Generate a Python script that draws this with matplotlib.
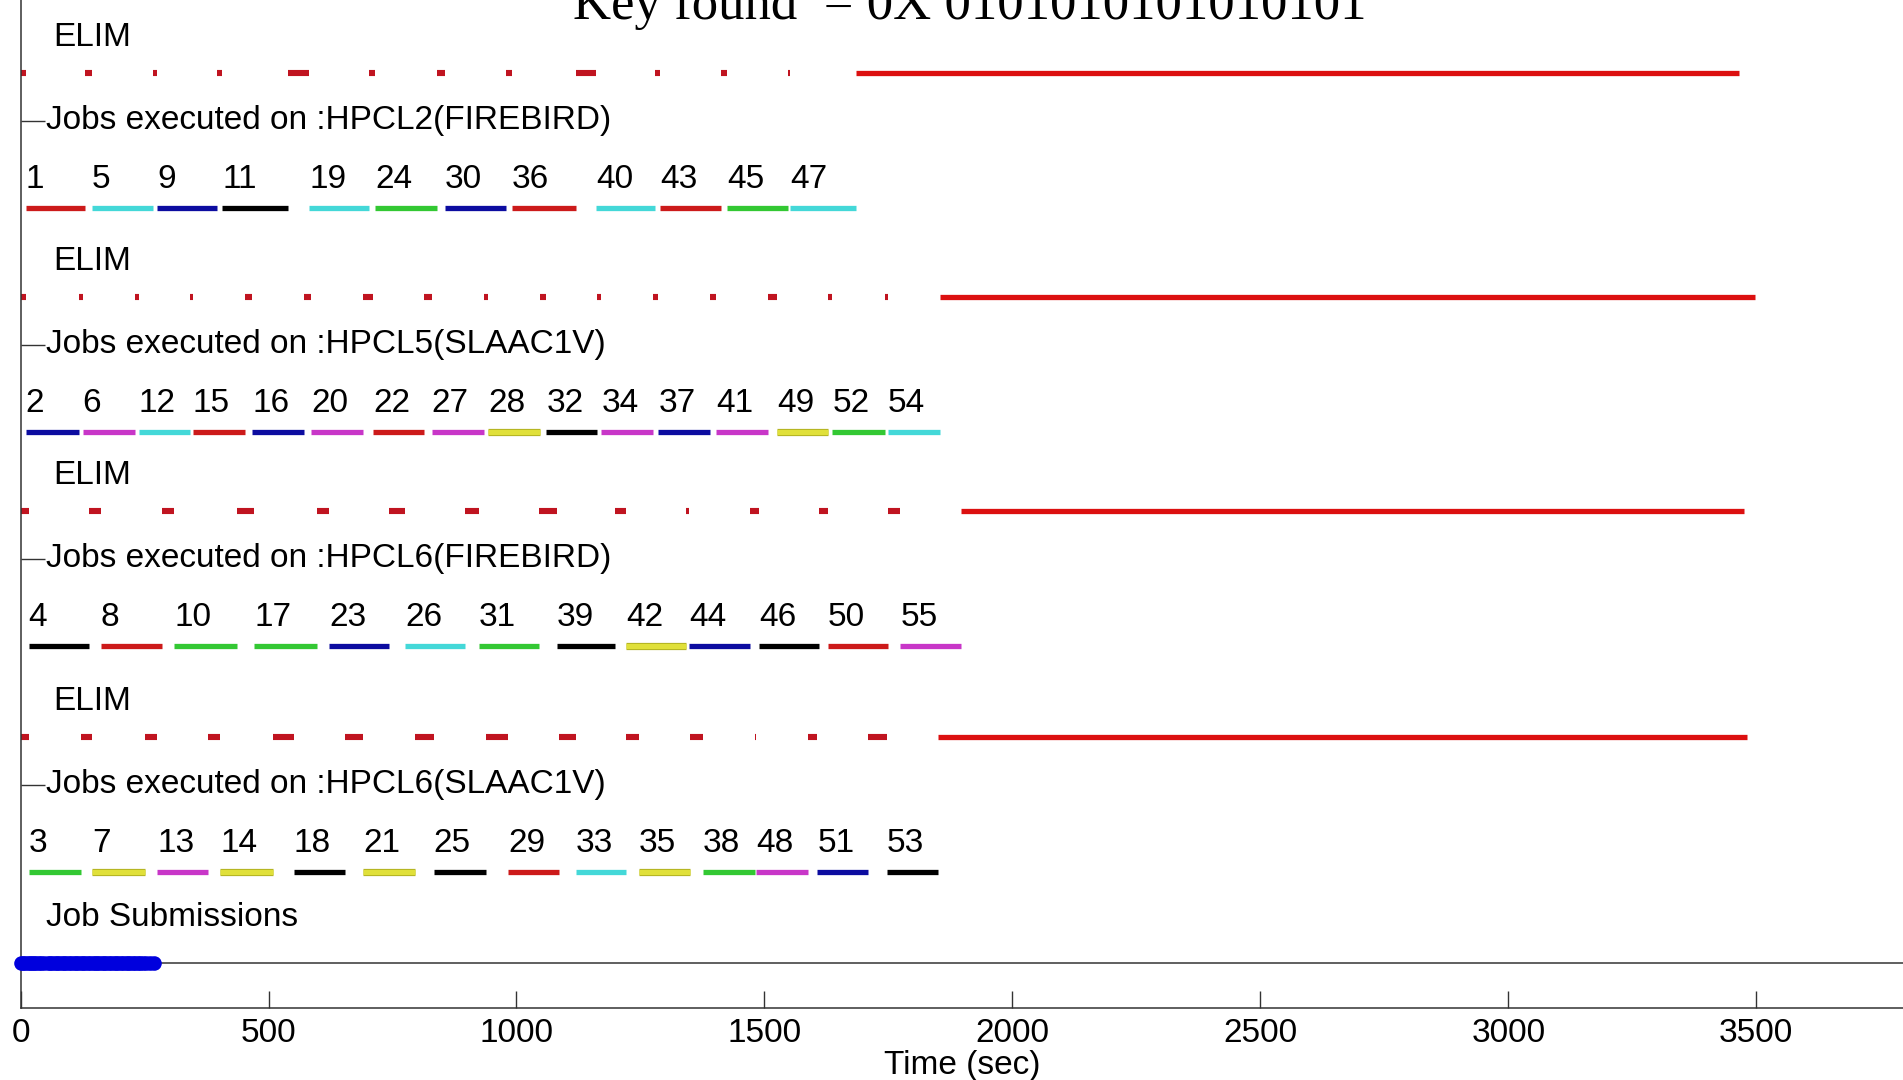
import matplotlib
matplotlib.use("Agg")
import matplotlib.pyplot as plt
import matplotlib.patheffects as pe

# ---------------- data ----------------
title_text = "Key found  = 0X 0101010101010101"

machines = ["HPCL2(FIREBIRD)", "HPCL5(SLAAC1V)", "HPCL6(FIREBIRD)", "HPCL6(SLAAC1V)"]

hpcl2_jobs   = [1, 5, 9, 11, 19, 24, 30, 36, 40, 43, 45, 47]
hpcl2_start  = [10, 144, 275, 407, 582, 715, 856, 991, 1160, 1290, 1425, 1552]
hpcl2_end    = [129, 267, 397, 539, 703, 839, 979, 1120, 1280, 1413, 1548, 1685]
hpcl2_colors = ["r", "c", "b", "k", "c", "g", "b", "r", "c", "r", "g", "c"]

hpcl5_jobs   = [2, 6, 12, 15, 16, 20, 22, 27, 28, 32, 34, 37, 41, 49, 52, 54]
hpcl5_start  = [10, 125, 238, 347, 467, 586, 711, 829, 943, 1060, 1171, 1286, 1403, 1525, 1637, 1749]
hpcl5_end    = [117, 230, 341, 453, 571, 690, 814, 934, 1048, 1163, 1276, 1390, 1508, 1629, 1743, 1854]
hpcl5_colors = ["b", "m", "c", "r", "b", "m", "r", "m", "y", "k", "m", "b", "m", "y", "g", "c"]

hpcl6f_jobs   = [4, 8, 10, 17, 23, 26, 31, 39, 42, 44, 46, 50, 55]
hpcl6f_start  = [16, 162, 310, 471, 622, 776, 924, 1082, 1221, 1348, 1489, 1628, 1774]
hpcl6f_end    = [137, 286, 436, 597, 743, 897, 1045, 1199, 1342, 1471, 1610, 1749, 1897]
hpcl6f_colors = ["k", "r", "g", "g", "b", "c", "g", "k", "y", "b", "k", "r", "m"]

hpcl6s_jobs   = [3, 7, 13, 14, 18, 21, 25, 29, 33, 35, 38, 48, 51, 53]
hpcl6s_start  = [16, 144, 276, 403, 551, 691, 833, 983, 1119, 1247, 1376, 1483, 1607, 1747]
hpcl6s_end    = [121, 251, 378, 508, 654, 795, 938, 1086, 1221, 1350, 1481, 1588, 1709, 1849]
hpcl6s_colors = ["g", "y", "m", "y", "k", "y", "k", "r", "c", "y", "g", "m", "b", "k"]

elim_end = [3466, 3498, 3476, 3481]

submission_times = [0, 4, 9, 14, 18, 23, 28, 32, 37, 42, 47, 55, 60, 64, 69, 74, 78, 83, 88,
                    92, 97, 102, 107, 112, 116, 121, 126, 130, 135, 140, 145, 150, 154, 159,
                    164, 168, 173, 178, 183, 188, 192, 197, 202, 207, 212, 216, 221, 226, 231,
                    236, 241, 246, 252, 260, 270]

xticks = [0, 500, 1000, 1500, 2000, 2500, 3000, 3500]

# ---------------- style ----------------
color_map = {"r": "#cc1a1a", "c": "#44d8d8", "b": "#0c0ca0", "k": "#000000",
             "g": "#33c833", "m": "#c836c8", "y": "#e0e03a"}
FONT = ["Liberation Sans", "DejaVu Sans"]
FS = 24

lane_base = [8.00, 5.76, 3.62, 1.36]       # bar level of each machine block
off_elim_line, off_jobs, off_nums, off_elim_lbl = 1.355, 0.875, 0.285, 1.71
sub_line_y, sub_label_y = 0.45, 0.90

W, H = 1903, 1080
fig = plt.figure(figsize=(W / 100, H / 100), dpi=100)
ax = fig.add_axes([20.6 / W, 72 / H, 1 - 20.6 / W, 1 - 72 / H])
ax.set_xlim(0, 3796)
ax.set_ylim(0, 10.08)

blocks = [
    (hpcl2_jobs, hpcl2_start, hpcl2_end, hpcl2_colors),
    (hpcl5_jobs, hpcl5_start, hpcl5_end, hpcl5_colors),
    (hpcl6f_jobs, hpcl6f_start, hpcl6f_end, hpcl6f_colors),
    (hpcl6s_jobs, hpcl6s_start, hpcl6s_end, hpcl6s_colors),
]

jobs_label_ys = []
for i, (jobs, st, en, cols) in enumerate(blocks):
    yb = lane_base[i]
    # job bars and numbers
    for j, s, e, c in zip(jobs, st, en, cols):
        kw = {}
        if c == "y":
            kw["path_effects"] = [pe.Stroke(linewidth=5.2, foreground="#b0b020"), pe.Normal()]
        ax.plot([s, e], [yb, yb], color=color_map[c], lw=3.8, solid_capstyle="butt", **kw)
        ax.text(s, yb + off_nums, str(j), ha="left", va="center", fontsize=FS, family=FONT)
    # ELIM segments: the gaps between jobs, then final ELIM run
    ye = yb + off_elim_line
    bounds = [0] + [v for pair in zip(st, en) for v in pair] + [elim_end[i]]
    for k in range(0, len(bounds), 2):
        a, b = bounds[k], bounds[k + 1]
        last = (k == len(bounds) - 2)
        ax.plot([a, b], [ye, ye], color="#dc1010" if last else "#c01420",
                lw=3.8 if last else 4.4, solid_capstyle="butt")
    ax.text(66, yb + off_elim_lbl, "ELIM", ha="left", va="center", fontsize=FS, family=FONT)
    yj = yb + off_jobs
    jobs_label_ys.append(yj)
    ax.text(51, yj, "Jobs executed on :" + machines[i], ha="left", va="center",
            fontsize=FS, family=FONT)

# submissions
ax.axhline(sub_line_y, color="#444444", lw=1.2, zorder=1)
ax.plot(submission_times, [sub_line_y] * len(submission_times), "o", color="#0000dd",
        markersize=10.5, markeredgewidth=0, zorder=3, clip_on=False)
ax.text(51, sub_label_y, "Job Submissions", ha="left", va="center", fontsize=FS, family=FONT)

# axes styling
for s in ["top", "right"]:
    ax.spines[s].set_visible(False)
for s in ["left", "bottom"]:
    ax.spines[s].set_color("#333333")
    ax.spines[s].set_linewidth(1.1)
ax.set_xticks(xticks)
ax.set_xticklabels([str(v) for v in xticks], fontsize=FS, family=FONT)
ax.set_yticks(jobs_label_ys)
ax.set_yticklabels([])
ax.tick_params(axis="x", direction="in", length=12, width=1, color="#333333", pad=7)
ax.tick_params(axis="y", direction="in", length=17, width=1, color="#333333")
ax.set_xlabel("Time (sec)", fontsize=FS, family=FONT, labelpad=1)

fig.text(970 / W, 1 - 19 / H, title_text, ha="center", va="baseline",
         fontsize=38, family=["Liberation Serif", "DejaVu Serif"])

fig.savefig("out.png", dpi=100)
